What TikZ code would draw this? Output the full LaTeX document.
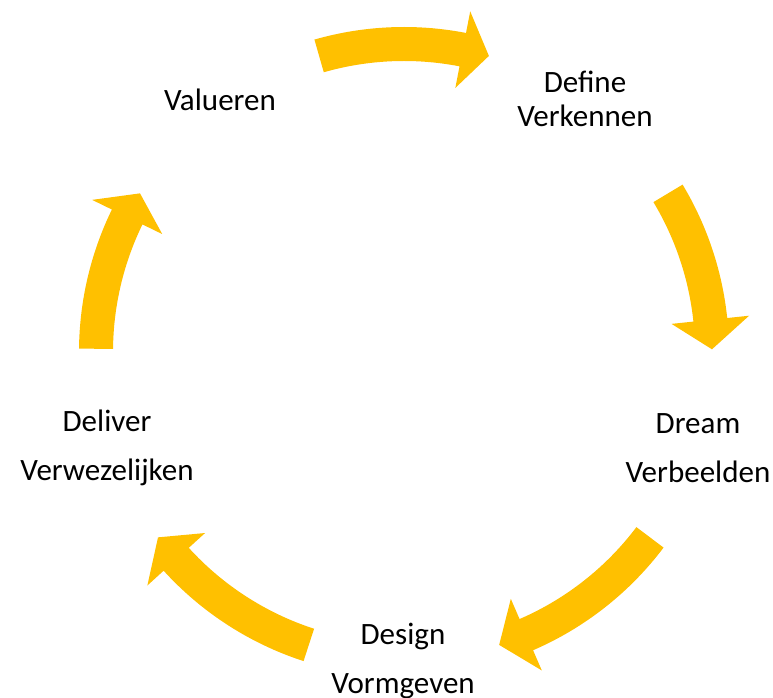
\documentclass[tikz,border=0pt]{standalone}
\usepackage{fontspec}
\setmainfont{Carlito}
\usetikzlibrary{positioning}
\definecolor{gold}{HTML}{FFC000}
\tikzset{
  phase/.style={font=\fontsize{26.5}{29}\selectfont, inner sep=0pt, align=center},
  arrowfill/.style={fill=gold, draw=none}
}
% curved block arrow on the ring: tail angle, head base angle, tip angle
\newcommand{\ringarrow}[3]{%
  \fill[arrowfill] (#1:325) arc[start angle=#1, end angle=#2, radius=325]
    -- (#2:347) -- (#3:308) -- (#2:269) -- (#2:291)
    arc[start angle=#2, end angle=#1, radius=291] -- cycle;
}

\begin{document}
\begin{tikzpicture}[x=0.03cm,y=0.03cm]
\useasboundingbox (0,0) rectangle (773,698);
\coordinate (hub) at (404,346);

\begin{scope}[shift={(hub)}]
\ringarrow{106}{79}{74}
\ringarrow{31}{6}{0.5}
\ringarrow{-37}{-66.6}{-72}
\ringarrow{-108}{-137.7}{-143}
\ringarrow{179.4}{154}{149}
\end{scope}

\node[phase] (valueren) at (220,598) {Valueren};
\node[phase] (define) at (585,599) {Define\\Verkennen};
\node[phase] (dream) at (698,250) {Dream\\[12.8pt]Verbeelden};
\node[phase] (design) at (403,37) {Design\\[12.8pt]Vormgeven};
\node[phase] (deliver) at (107,250) {Deliver\\[12.8pt]Verwezelijken};

\end{tikzpicture}
\end{document}
